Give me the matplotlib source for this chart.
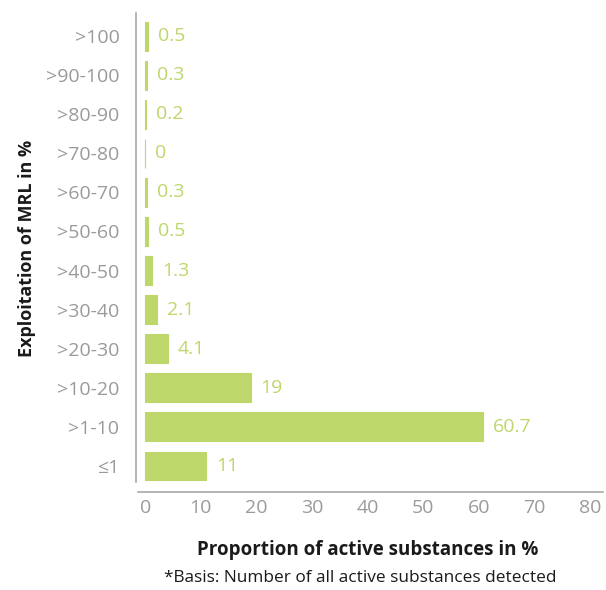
import matplotlib
matplotlib.use("Agg")
from matplotlib import pyplot as plt

plt.rcParams['font.family'] = ['Open Sans', 'DejaVu Sans']

categories = ['≤1', '>1-10', '>10-20', '>20-30', '>30-40', '>40-50',
              '>50-60', '>60-70', '>70-80', '>80-90', '>90-100', '>100']
values = [11, 60.7, 19, 4.1, 2.1, 1.3, 0.5, 0.3, 0, 0.2, 0.3, 0.5]
xticks = [0, 10, 20, 30, 40, 50, 60, 70, 80]

green = '#bdd76b'
grey = '#9a9a9a'

W, H = 606, 590
fig = plt.figure(figsize=(W / 100, H / 100), dpi=100)
# axes box in pixels: left 138, right 603, top 13, bottom 482
ax = fig.add_axes([138 / W, 1 - 482 / H, (603 - 138) / W, (482 - 13) / H])

ypos = range(len(categories))
ax.barh(ypos, values, height=0.74, color=green, edgecolor=green, linewidth=0.8)
for y, v in zip(ypos, values):
    ax.annotate(f"{v:g}", (v, y), xytext=(7, 0), textcoords='offset points',
                va='center', ha='left', color=green, fontsize=14)

ax.set_xlim(-1.3, 82.3)
ax.set_ylim(-0.41, 11.59)
ax.set_yticks(list(ypos))
ax.set_yticklabels(categories)
ax.set_xticks(xticks)

for s in ['top', 'right']:
    ax.spines[s].set_visible(False)
ax.spines['left'].set_position(('outward', 1.4))
ax.spines['bottom'].set_position(('outward', 7.2))
for s in ['left', 'bottom']:
    ax.spines[s].set_color('#a8a8a8')
    ax.spines[s].set_linewidth(1.2)

ax.tick_params(axis='y', length=0, pad=12, labelsize=14, labelcolor=grey)
ax.tick_params(axis='x', length=0, pad=5, labelsize=14, labelcolor=grey)

fig.text(27 / W, 1 - 248 / H, 'Exploitation of MRL in %', rotation=90,
         ha='center', va='center', fontsize=13, fontweight='bold', color='#1a1a1a')
fig.text(368 / W, 1 - 550 / H, 'Proportion of active substances in %',
         ha='center', va='center', fontsize=13.5, fontweight='bold', color='#1a1a1a')
fig.text(360 / W, 1 - 578 / H, '*Basis: Number of all active substances detected',
         ha='center', va='center', fontsize=12.4, color='#1a1a1a')

fig.savefig('out.png', dpi=100)
